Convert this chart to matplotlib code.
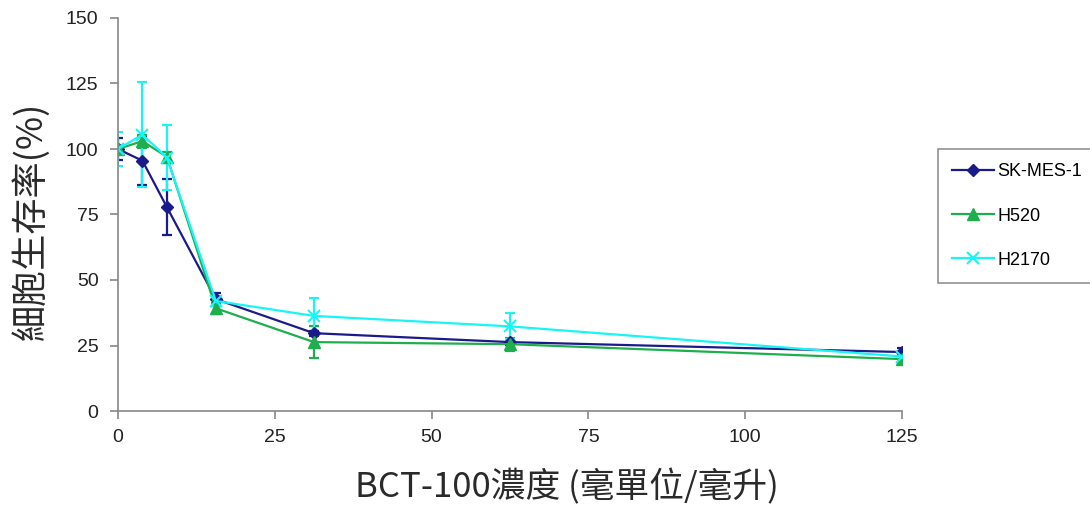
import matplotlib
matplotlib.use("Agg")
import matplotlib.pyplot as plt
from matplotlib.lines import Line2D

plt.rcParams['font.family'] = ['Liberation Sans', 'DejaVu Sans']

# BCT-100 concentration (mU/mL)
conc = [0, 3.9, 7.8, 15.6, 31.25, 62.5, 125]

sk_mes_1 = [100, 95.5, 77.8, 42.7, 29.7, 26.3, 22.5]
sk_mes_1_err = [4.3, 9.2, 10.6, 2.5, 1.0, 1.0, 1.5]

h520 = [100, 103, 97, 39.2, 26.3, 25.5, 19.8]
h520_err = [1.5, 2.5, 2.0, 2.0, 6.0, 2.5, 1.5]

h2170 = [100, 105.5, 96.7, 42.0, 36.3, 32.3, 20.8]
h2170_err = [6.3, 20.0, 12.3, 2.0, 6.7, 5.0, 1.5]

series_names = ['SK-MES-1', 'H520', 'H2170']

x_ticks = [0, 25, 50, 75, 100, 125]
y_ticks = [0, 25, 50, 75, 100, 125, 150]

fig = plt.figure(figsize=(10.9, 5.11), dpi=100)
ax = fig.add_axes([118 / 1090, 1 - 411 / 511, (902 - 118) / 1090, (411 - 18) / 511])

styles = [
    dict(color='#1a1a8a', marker='D', markersize=6),
    dict(color='#1fae4e', marker='^', markersize=8),
    dict(color='#19f5f5', marker='x', markersize=8, markeredgewidth=1.5),
]
data = [(sk_mes_1, sk_mes_1_err), (h520, h520_err), (h2170, h2170_err)]

handles = []
for (vals, errs), name, st in zip(data, series_names, styles):
    ax.errorbar(conc, vals, yerr=errs, linewidth=1.6,
                elinewidth=1.6, capsize=3.5, capthick=1.6, **st)
    handles.append(Line2D([], [], linewidth=1.6, label=name, **st))

ax.set_xlim(0, 125)
ax.set_ylim(0, 150)
ax.set_xticks(x_ticks)
ax.set_yticks(y_ticks)
ax.tick_params(axis='both', labelsize=14, color='#888888', length=6,
               width=1.2, direction='out', labelcolor='#222222')
ax.tick_params(axis='y', pad=8)
ax.tick_params(axis='x', pad=7)
for side in ('top', 'right'):
    ax.spines[side].set_visible(False)
for side in ('left', 'bottom'):
    ax.spines[side].set_color('#888888')
    ax.spines[side].set_linewidth(1.2)

cjk = ['Noto Sans CJK TC', 'DejaVu Sans']
ax.set_ylabel('細胞生存率(%)', fontsize=26, family=cjk, labelpad=10,
              color='#2a2a2a', fontweight='light')
ax.yaxis.set_label_coords(-0.087, 0.485)
ax.set_xlabel('BCT-100濃度 (毫單位/毫升)', fontsize=25, family=cjk,
              labelpad=12, color='#2a2a2a', fontweight='light')
ax.xaxis.set_label_coords(0.573, -0.149)

leg = fig.legend(handles=handles, loc='upper left',
                 bbox_to_anchor=(938 / 1090, 1 - 149 / 511),
                 fontsize=13, frameon=True, fancybox=False, edgecolor='#777777',
                 borderpad=0.8, labelspacing=1.5, handlelength=2.3,
                 handletextpad=0.2, borderaxespad=0)
leg.get_frame().set_linewidth(1.2)

fig.savefig('out.png', dpi=100)
